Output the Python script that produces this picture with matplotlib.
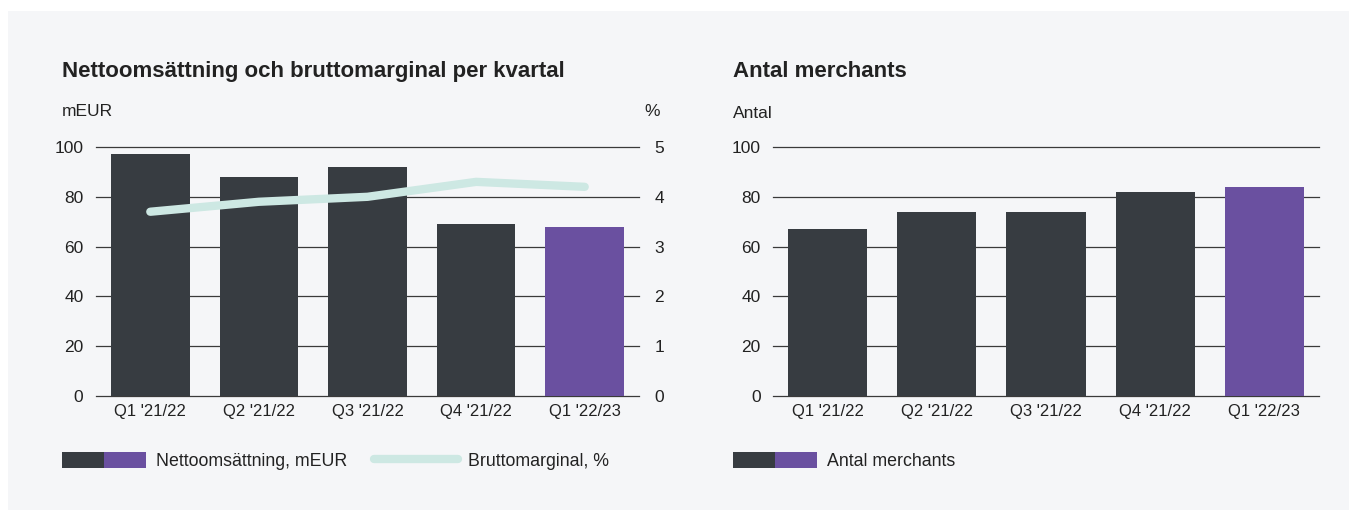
import matplotlib.pyplot as plt
from matplotlib.patches import Rectangle, Patch
from matplotlib.lines import Line2D
from matplotlib.legend_handler import HandlerTuple

# data
quarters = ["Q1 '21/22", "Q2 '21/22", "Q3 '21/22", "Q4 '21/22", "Q1 '22/23"]
net_sales = [97, 88, 92, 69, 68]          # mEUR
gross_margin = [3.7, 3.9, 4.0, 4.3, 4.2]  # %
merchants = [67, 74, 74, 82, 84]          # antal

DARK = '#373c41'
PURPLE = '#6a50a0'
TEAL = '#cde8e3'
PANEL = '#f5f6f8'
GRID = '#3a3a3a'
TXT = '#222222'

plt.rcParams['font.family'] = ['Liberation Sans', 'DejaVu Sans']
plt.rcParams['text.color'] = TXT

W, H = 1359, 518
fig = plt.figure(figsize=(W / 100, H / 100), dpi=100)
fig.patch.set_facecolor('white')
fig.add_artist(Rectangle((8 / W, 1 - 510 / H), (1349 - 8) / W, (510 - 11) / H,
                         transform=fig.transFigure, facecolor=PANEL,
                         edgecolor='none', zorder=-10))


def style_axes(ax, yvals):
    ax.set_facecolor('none')
    for s in ax.spines.values():
        s.set_visible(False)
    ax.set_ylim(0, 100)
    ax.set_yticks([0, 20, 40, 60, 80, 100])
    ax.set_xlim(-0.5, 4.5)
    ax.grid(axis='y', color=GRID, linewidth=0.9)
    ax.set_axisbelow(True)
    for gl in ax.get_ygridlines():
        gl.set_clip_on(False)
    ax.tick_params(axis='y', length=0, pad=9, labelsize=12.5, labelcolor=TXT)
    ax.tick_params(axis='x', length=0, pad=6, labelsize=12, labelcolor=TXT)
    colors = [DARK] * (len(yvals) - 1) + [PURPLE]
    ax.bar(range(len(yvals)), yvals, width=0.725, color=colors, zorder=2)
    ax.set_xticks(range(len(quarters)))
    ax.set_xticklabels(quarters)


# left chart
ax1 = fig.add_axes([96 / W, 1 - 396 / H, 543 / W, 249 / H])
style_axes(ax1, net_sales)
ax2 = ax1.twinx()
for s in ax2.spines.values():
    s.set_visible(False)
ax2.set_ylim(0, 5)
ax2.set_yticks([0, 1, 2, 3, 4, 5])
ax2.tick_params(axis='y', length=0, pad=11, labelsize=12.5, labelcolor=TXT)
ax2.plot(range(len(gross_margin)), gross_margin, color=TEAL, linewidth=6,
         solid_capstyle='round', solid_joinstyle='round', zorder=3)

fig.text(62 / W, 1 - 71 / H, 'Nettoomsättning och bruttomarginal per kvartal',
         fontsize=16, fontweight='bold', va='center', ha='left')
fig.text(62 / W, 1 - 111 / H, 'mEUR', fontsize=12.5, va='center', ha='left')
fig.text(660 / W, 1 - 111 / H, '%', fontsize=12.5, va='center', ha='right')

bar_handle = (Patch(facecolor=DARK), Patch(facecolor=PURPLE))
line_handle = Line2D([0], [0], color=TEAL, linewidth=6, solid_capstyle='round')
fig.legend([bar_handle, line_handle],
           ['Nettoomsättning, mEUR', 'Bruttomarginal, %'],
           handler_map={tuple: HandlerTuple(ndivide=None, pad=0)},
           loc='center left', bbox_to_anchor=(62 / W, 1 - 461 / H),
           borderpad=0, borderaxespad=0,
           ncol=2, frameon=False, fontsize=12.8, handlelength=4.7,
           handleheight=1.0, handletextpad=0.6, columnspacing=1.5)

# right chart
ax3 = fig.add_axes([773 / W, 1 - 396 / H, 546 / W, 249 / H])
style_axes(ax3, merchants)

fig.text(733 / W, 1 - 71 / H, 'Antal merchants', fontsize=16,
         fontweight='bold', va='center', ha='left')
fig.text(733 / W, 1 - 113 / H, 'Antal', fontsize=12.5, va='center', ha='left')

fig.legend([bar_handle], ['Antal merchants'],
           handler_map={tuple: HandlerTuple(ndivide=None, pad=0)},
           loc='center left', bbox_to_anchor=(733 / W, 1 - 461 / H),
           borderpad=0, borderaxespad=0,
           frameon=False, fontsize=12.8, handlelength=4.7,
           handleheight=1.0, handletextpad=0.6)

fig.savefig('out.png', dpi=100, facecolor='white')
